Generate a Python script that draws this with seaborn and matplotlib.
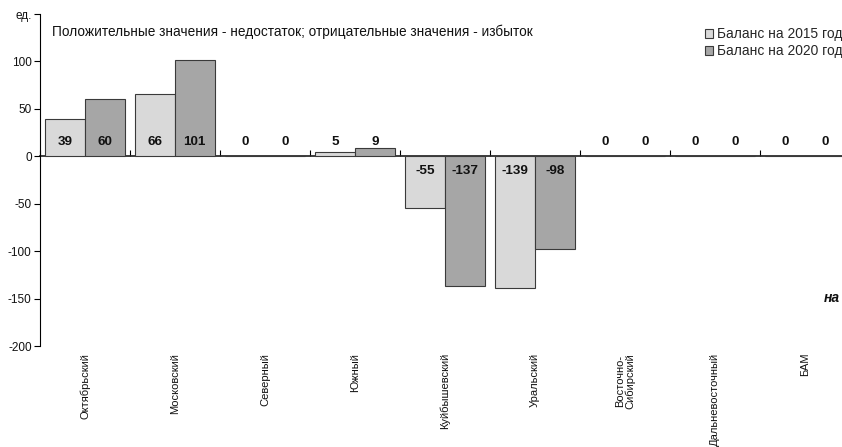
import numpy as np
import pandas as pd
import matplotlib
matplotlib.use("Agg")
import matplotlib.pyplot as plt
import seaborn as sns
from matplotlib.patches import Patch

sns.set_theme(style="white")
plt.rcParams["font.family"] = ["Liberation Sans", "DejaVu Sans"]

regions = ["Октябрьский", "Московский", "Северный", "Южный", "Куйбышевский",
           "Уральский", "Восточно-\nСибирский", "Дальневосточный", "БАМ"]
balance_2015 = [39, 66, 0, 5, -55, -139, 0, 0, 0]
balance_2020 = [60, 101, 0, 9, -137, -98, 0, 0, 0]
series_names = ["Баланс на 2015 год", "Баланс на 2020 год"]
y_ticks = [-200, -150, -100, -50, 0, 50, 100, 150]
y_tick_labels = ["-200", "-150", "-100", "-50", "0", "50", "100", "ед."]

df = pd.DataFrame({
    "region": regions * 2,
    "value": balance_2015 + balance_2020,
    "series": [series_names[0]] * len(regions) + [series_names[1]] * len(regions),
})

colors = ["#d9d9d9", "#a6a6a6"]
edge = "#3a3a3a"

fig = plt.figure(figsize=(8.42, 4.47), dpi=100)
ax = fig.add_axes([40 / 842, 1 - 346 / 447, 810 / 842, (346 - 14) / 447])

sns.barplot(data=df, x="region", y="value", hue="series", order=regions,
            hue_order=series_names, palette=colors, width=0.88,
            edgecolor=edge, linewidth=0.8, ax=ax, legend=False, errorbar=None)

ax.set_xlim(-0.5, len(regions) - 0.5)
ax.set_ylim(-200, 150)
ax.set_xlabel("")
ax.set_ylabel("")

# y axis
ax.set_yticks(y_ticks)
ax.set_yticklabels(y_tick_labels, fontsize=8.5, color="#111111")
ax.tick_params(axis="y", direction="out", length=4, width=0.8, color="black", pad=2, left=True)
for side in ["top", "right", "bottom"]:
    ax.spines[side].set_visible(False)
ax.spines["left"].set_color("black")
ax.spines["left"].set_linewidth(0.8)

# category labels under the plot
ax.set_xticks(range(len(regions)))
ax.set_xticklabels(regions, rotation=90, fontsize=8, va="top", linespacing=1.0,
                   color="#111111")
ax.tick_params(axis="x", length=0, pad=5)

# zero line with ticks between categories
zero_frac = (0 - (-200)) / (150 - (-200))
sec = ax.secondary_xaxis(zero_frac)
sec.set_xticks(np.arange(-0.5, len(regions) - 0.5 + 1e-9, 1.0))
sec.set_xticklabels([])
sec.tick_params(axis="x", direction="out", length=4, width=0.8, color="black")
sec.spines["bottom"].set_color("black")
sec.spines["bottom"].set_linewidth(0.8)

# value labels near the zero line
for cont, vals in zip(ax.containers, [balance_2015, balance_2020]):
    for bar, v in zip(cont, vals):
        cx = bar.get_x() + bar.get_width() / 2
        ax.text(cx, 15 if v >= 0 else -16, f"{v}", ha="center", va="center",
                fontsize=9.7, fontweight="bold", color="#111111")

fig.text(52 / 842, 1 - 32 / 447, "Положительные значения - недостаток; отрицательные значения - избыток",
         fontsize=9.8, ha="left", va="center", color="#111111")

handles = [Patch(facecolor=c, edgecolor=edge, linewidth=0.8) for c in colors]
fig.legend(handles, series_names, loc="upper left", bbox_to_anchor=(705 / 842, 1 - 27 / 447),
           frameon=False, fontsize=9.9, handlelength=0.6, handleheight=0.6,
           handletextpad=0.3, labelspacing=0.25, borderpad=0, borderaxespad=0)

fig.text(824 / 842, 1 - 298 / 447, "на", fontsize=10, fontweight="bold", fontstyle="italic",
         ha="left", va="center", color="#111111")

fig.savefig("out.png", dpi=100, facecolor="white")
